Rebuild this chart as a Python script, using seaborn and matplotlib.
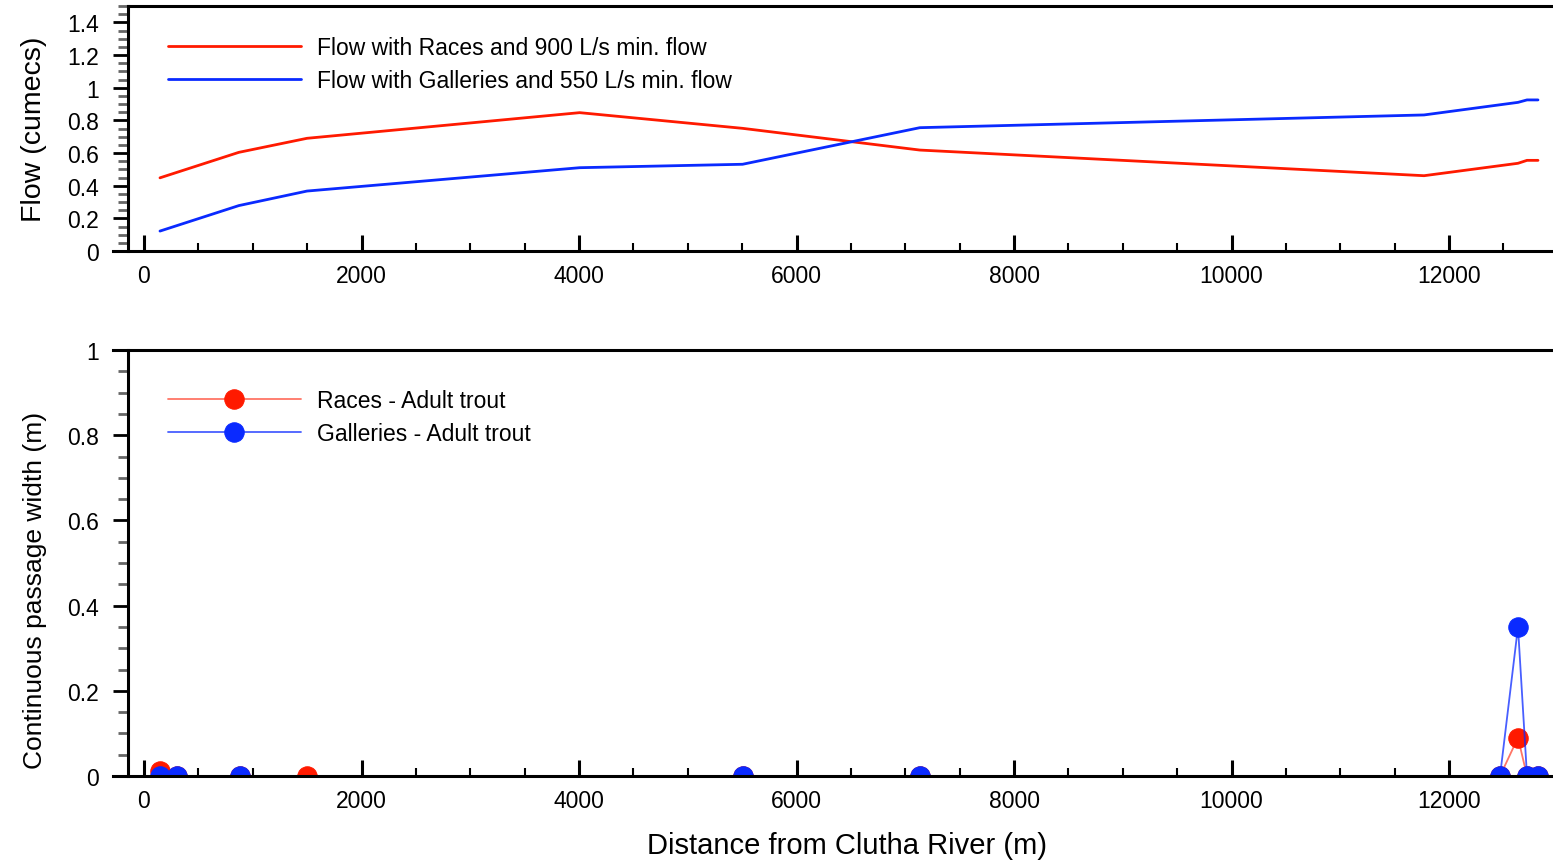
import seaborn as sns
import matplotlib.pyplot as plt
from matplotlib.ticker import MultipleLocator, FuncFormatter
import numpy as np
import pandas as pd

# flow along the creek (top panel)
dist = [147, 872, 1499, 4006, 5504, 7134, 11770, 12634, 12717, 12818]
flow_races = [0.448, 0.604, 0.69, 0.847, 0.751, 0.618, 0.461, 0.537, 0.555, 0.555]
flow_galleries = [0.122, 0.278, 0.367, 0.51, 0.531, 0.755, 0.833, 0.91, 0.925, 0.925]

# continuous passage width (bottom panel)
races_x = [147, 300, 880, 1499, 5504, 7134, 12469, 12634, 12717, 12818]
races_w = [0.012, 0, 0, 0, 0, 0, 0, 0.09, 0, 0]
gall_x = [147, 300, 880, 5504, 7134, 12469, 12634, 12717, 12818]
gall_w = [0, 0, 0, 0, 0, 0, 0.35, 0, 0]

RED = '#ff1a00'
BLUE = '#0a2aff'

sns.set_style('ticks')
plt.rcParams['font.family'] = ['Liberation Sans', 'DejaVu Sans']
plt.rcParams['text.color'] = 'black'
plt.rcParams['axes.labelcolor'] = 'black'
plt.rcParams['axes.edgecolor'] = 'black'
plt.rcParams['xtick.color'] = 'black'
plt.rcParams['ytick.color'] = 'black'

fig = plt.figure(figsize=(15.53, 8.62), dpi=100)
ax1 = fig.add_axes([113 / 1553, 610 / 862, 1440 / 1553, 245 / 862])
ax2 = fig.add_axes([113 / 1553, 85 / 862, 1440 / 1553, 426 / 862])

sns.lineplot(x=dist, y=flow_races, color=RED, linewidth=2,
             label='Flow with Races and 900 L/s min. flow', ax=ax1)
sns.lineplot(x=dist, y=flow_galleries, color=BLUE, linewidth=2,
             label='Flow with Galleries and 550 L/s min. flow', ax=ax1)

sns.lineplot(x=races_x, y=races_w, color=(1, 0.1, 0, 0.6), linewidth=1.3,
             marker='o', markersize=14, markerfacecolor=RED, markeredgecolor=RED,
             label='Races - Adult trout', ax=ax2)
sns.lineplot(x=gall_x, y=gall_w, color=(0.04, 0.16, 1, 0.75), linewidth=1.3,
             marker='o', markersize=14, markerfacecolor=BLUE, markeredgecolor=BLUE,
             label='Galleries - Adult trout', ax=ax2)

fmt = FuncFormatter(lambda v, p: '%g' % round(v, 2))
xmin, xmax = -285, 12956
for ax, ytop in [(ax1, 1.5), (ax2, 1.0)]:
    ax.set_xlim(xmin, xmax)
    ax.set_ylim(0, ytop)
    ax.xaxis.set_major_locator(MultipleLocator(2000))
    ax.xaxis.set_minor_locator(MultipleLocator(500))
    ax.yaxis.set_major_locator(MultipleLocator(0.2))
    ax.yaxis.set_minor_locator(MultipleLocator(0.05))
    ax.yaxis.set_major_formatter(fmt)
    ax.spines['right'].set_visible(False)
    ax.spines['left'].set_position(('data', -147))
    for s in ['left', 'top', 'bottom']:
        ax.spines[s].set_linewidth(2.2)
    ax.tick_params(axis='y', which='major', direction='out', length=11, width=2,
                   labelsize=16.5, pad=10)
    ax.tick_params(axis='y', which='minor', direction='out', length=7, width=2,
                   color='#666666')
    ax.tick_params(axis='x', which='major', direction='in', length=11.5, width=2.2,
                   labelsize=16.5, pad=9.5)
    ax.tick_params(axis='x', which='minor', direction='in', length=6, width=1.5)
    ax.set_xlabel('')

ax1.spines['top'].set_bounds(-147, xmax)

ax1.set_ylabel('Flow (cumecs)', fontsize=20.5)
ax1.yaxis.set_label_coords(-0.046, 0.5)
ax2.set_ylabel('Continuous passage width (m)', fontsize=19)
ax2.yaxis.set_label_coords(-0.046, 0.439)
ax2.set_xlabel('Distance from Clutha River (m)', fontsize=21)
ax2.xaxis.set_label_coords(0.51, -0.13)

leg_kw = dict(loc='upper left', frameon=False, fontsize=16.5, handlelength=5.8,
              handletextpad=0.7, labelspacing=0.46, borderpad=0, borderaxespad=0)
ax1.legend(bbox_to_anchor=(0.0382, 0.879), **leg_kw)
ax2.legend(bbox_to_anchor=(0.0382, 0.909), **leg_kw)

fig.savefig('out.png', dpi=100)
